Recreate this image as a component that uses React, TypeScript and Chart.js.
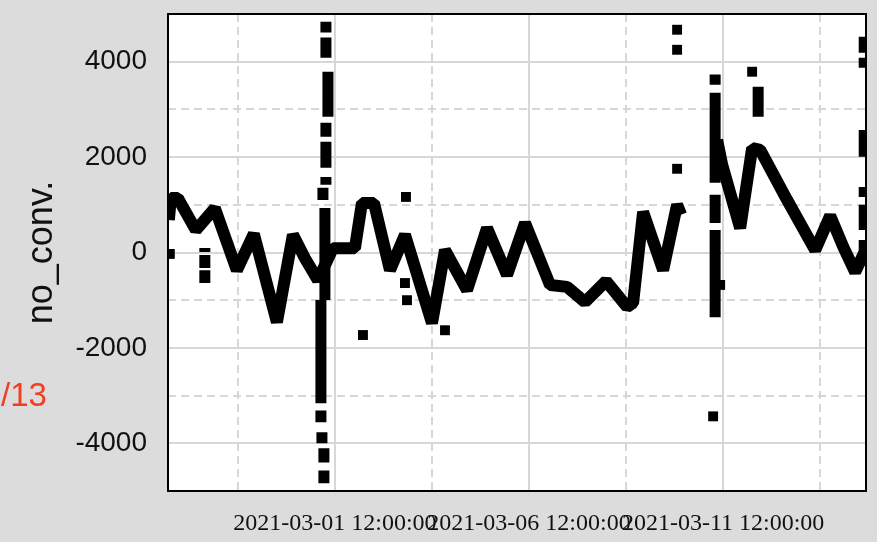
import React, { useEffect, useRef } from 'react';
import { Chart, registerables } from 'chart.js';

Chart.register(...registerables);

// x values are days counted from 2021-03-01 00:00
const xLabelTicks = [0.5, 5.5, 10.5];
const xTickLabels = ['2021-03-01 12:00:00', '2021-03-06 12:00:00', '2021-03-11 12:00:00'];
const xMinorTicks = [-2, 3, 8, 13];
const yLabelTicks = [-4000, -2000, 0, 2000, 4000];
const yMinorTicks = [-3000, -1000, 1000, 3000];
const xMin = -3.8;
const xMax = 14.18;
const yMin = -5000;
const yMax = 5000;
const yTitle = 'no_conv.';
const sideNote = '/13';

// main trace (null = gap in the record)
const traceDays = [
  -3.778, -3.727, -3.546, -3.082, -2.593, -2.026, -1.588, -0.995, -0.582, -0.273,
  0.062, 0.448, 1.015, 1.196, 1.505, 1.918, 2.304, 3.0, 3.335, 3.902,
  4.418, 4.933, 5.397, 6.041, 6.479, 6.943, 7.485, 8.026, 8.18, 8.438,
  8.954, 9.314, 9.418, 9.8, 10.345, 10.474, 10.938, 11.247, 11.454, 12.149,
  12.871, 13.258, 13.593, 13.902, 14.186,
];
const traceValues: (number | null)[] = [
  680, 1140, 1140, 470, 930, -370, 390, -1460, 370, -120,
  -580, 90, 90, 1040, 1040, -370, 370, -1480, 50, -790,
  510, -470, 620, -680, -720, -1040, -600, -1140, -1060, 850,
  -370, 1000, 790, null, 2360, 1840, 510, 2190, 2150, 1100,
  50, 770, 120, -410, 90,
];

// vertical runs of densely packed readings
const spikeDays = [
  0.268, 0.268, 0.32, 0.268, 0.268, 0.268, 0.191, 0.242, 0.139, 0.139, 0.165, 0.216, 0.216,
  -2.851, -2.851, -2.851,
  10.294, 10.294, 10.294, 10.294,
  11.402,
  14.134, 14.134, 14.134, 14.134, 14.134, 14.134,
];
const spikeFrom = [
  4840, 4505, 3790, 2720, 2320, 1585, 1355, 935, -995, -3310, -3770, -4105, -4570,
  95, -50, -370,
  3730, 3350, 1210, 470,
  3475,
  4525, 4085, 2570, 1375, 1000, 260,
];
const spikeTo = [
  4610, 4085, 2845, 2425, 1775, 1420, 1100, -995, -3160, -3560, -4000, -4400, -4840,
  10, -325, -640,
  3515, 1460, 620, -1355,
  2845,
  4190, 3875, 2005, 1165, 470, 50,
];

// isolated readings
const outlierDays = [-3.753, 1.222, 2.33, 2.304, 2.356, 3.335, 9.314, 9.314, 9.314, 11.247, 10.242, 10.423];
const outlierValues = [-30, -1730, 1165, -640, -1000, -1630, 4670, 4250, 1755, 3790, -3435, -680];

const tracePoints = traceDays.map((d, i) => ({ x: d, y: traceValues[i] }));
const spikePoints: { x: number; y: number | null }[] = [];
spikeDays.forEach((d, i) => {
  spikePoints.push({ x: d, y: spikeFrom[i] });
  spikePoints.push({ x: d, y: spikeTo[i] });
  spikePoints.push({ x: d, y: null });
});
const outlierPoints = outlierDays.map((d, i) => ({ x: d, y: outlierValues[i] }));

const framePlugin = {
  id: 'frame',
  beforeDraw(chart: any) {
    const { ctx, chartArea: a } = chart;
    ctx.save();
    ctx.fillStyle = '#dcdcdc';
    ctx.fillRect(0, 0, chart.width, chart.height);
    ctx.fillStyle = '#ffffff';
    ctx.fillRect(a.left, a.top, a.right - a.left, a.bottom - a.top);
    ctx.restore();
  },
  afterDraw(chart: any) {
    const { ctx, chartArea: a } = chart;
    ctx.save();
    ctx.strokeStyle = '#000';
    ctx.lineWidth = 2;
    ctx.strokeRect(a.left, a.top, a.right - a.left, a.bottom - a.top);
    ctx.fillStyle = '#f23d22';
    ctx.font = '33px "Liberation Sans", Arial, sans-serif';
    ctx.textBaseline = 'alphabetic';
    ctx.textAlign = 'left';
    ctx.fillText(sideNote, 1, 406);
    ctx.restore();
  },
};

export default function App() {
  const ref = useRef<HTMLCanvasElement | null>(null);

  useEffect(() => {
    if (!ref.current) return;
    const chart = new Chart(ref.current, {
      type: 'line',
      data: {
        datasets: [
          {
            data: tracePoints as any,
            borderColor: '#000',
            backgroundColor: '#000',
            borderWidth: 12,
            borderJoinStyle: 'bevel',
            borderCapStyle: 'butt',
            pointRadius: 0,
            spanGaps: false,
            clip: 0,
            tension: 0,
          },
          {
            data: spikePoints as any,
            borderColor: '#000',
            backgroundColor: '#000',
            borderWidth: 11,
            borderCapStyle: 'butt',
            pointRadius: 0,
            spanGaps: false,
            clip: 0,
          },
          {
            data: outlierPoints as any,
            showLine: false,
            pointStyle: 'rect',
            pointRadius: 7,
            pointBorderWidth: 0,
            pointBackgroundColor: '#000',
            borderColor: '#000',
            clip: 0,
          },
        ],
      },
      options: {
        animation: false,
        responsive: false,
        events: [],
        layout: { padding: { left: 0, right: 11, top: 14, bottom: 0 } },
        plugins: { legend: { display: false }, tooltip: { enabled: false } },
        scales: {
          x: {
            type: 'linear',
            min: xMin,
            max: xMax,
            afterBuildTicks: (scale: any) => {
              scale.ticks = [...xMinorTicks, ...xLabelTicks].sort((a, b) => a - b).map((v) => ({ value: v }));
            },
            afterFit: (scale: any) => {
              scale.height = 51;
              scale.paddingLeft = 0;
              scale.paddingRight = 0;
            },
            grid: {
              color: '#d7d7d7',
              lineWidth: 2,
              drawTicks: false,
            },
            border: {
              display: false,
              dash: (ctx: any) => (ctx.tick && xMinorTicks.includes(ctx.tick.value) ? [8, 5] : []),
            },
            ticks: {
              autoSkip: false,
              maxRotation: 0,
              minRotation: 0,
              padding: 18,
              color: '#111',
              font: { family: '"Liberation Serif", "Times New Roman", serif', size: 24 },
              callback: (value: any) => {
                const i = xLabelTicks.indexOf(Number(value));
                return i >= 0 ? xTickLabels[i] : '';
              },
            },
          },
          y: {
            type: 'linear',
            min: yMin,
            max: yMax,
            afterBuildTicks: (scale: any) => {
              scale.ticks = [...yMinorTicks, ...yLabelTicks].sort((a, b) => a - b).map((v) => ({ value: v }));
            },
            afterFit: (scale: any) => {
              scale.width = 168;
              scale.paddingTop = 0;
              scale.paddingBottom = 0;
            },
            grid: {
              color: '#d7d7d7',
              lineWidth: 2,
              drawTicks: false,
            },
            border: {
              display: false,
              dash: (ctx: any) => (ctx.tick && yMinorTicks.includes(ctx.tick.value) ? [8, 5] : []),
            },
            ticks: {
              autoSkip: false,
              padding: 21,
              color: '#111',
              font: { family: '"Liberation Sans", Arial, sans-serif', size: 28 },
              callback: (value: any) => (yLabelTicks.includes(Number(value)) ? String(value) : ''),
            },
            title: {
              display: true,
              text: yTitle,
              color: '#111',
              padding: { top: 20, bottom: 0 },
              font: { family: '"Liberation Sans", Arial, sans-serif', size: 36, lineHeight: 1.2 },
            },
          },
        },
      },
      plugins: [framePlugin],
    } as any);
    return () => chart.destroy();
  }, []);

  return (
    <div style={{ position: 'fixed', left: 0, top: 0, width: 877, height: 542, background: '#dcdcdc' }}>
      <canvas ref={ref} width={877} height={542} style={{ display: 'block' }} />
    </div>
  );
}
